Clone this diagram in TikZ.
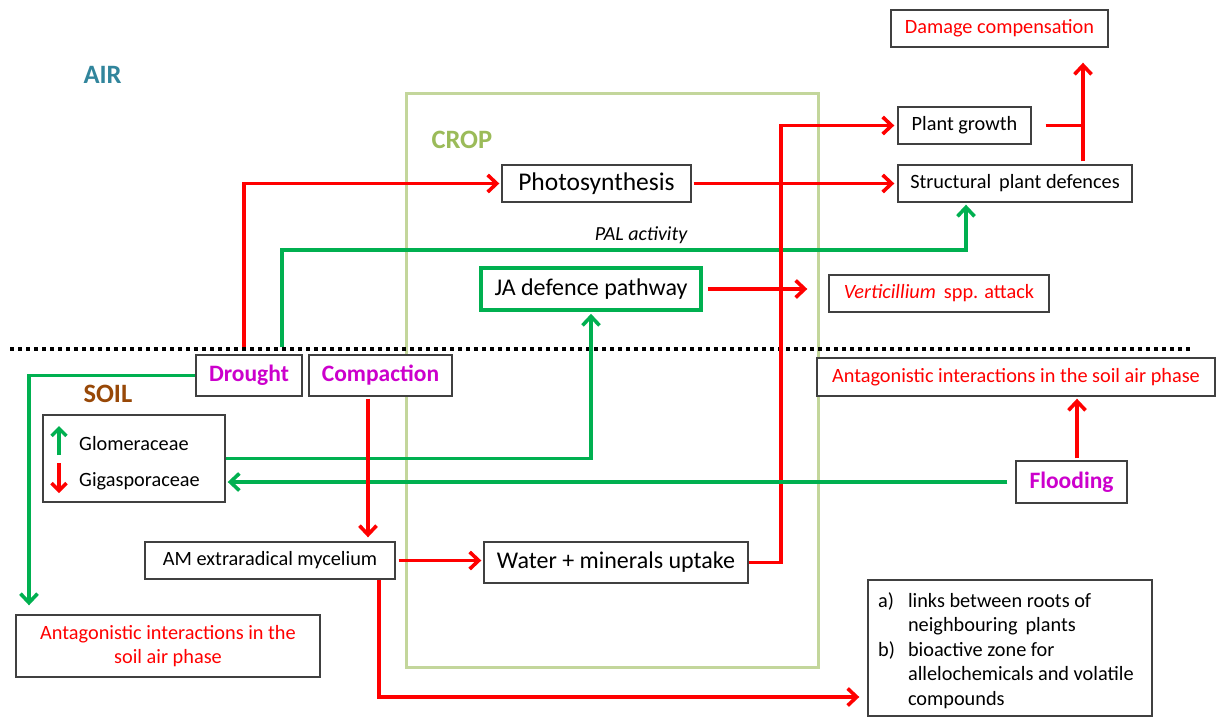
\documentclass[tikz,border=0pt]{standalone}
\usepackage{fontspec}
\setmainfont{Carlito}
\usetikzlibrary{arrows.meta,calc}
\definecolor{myred}{HTML}{FF0000}
\definecolor{mygreen}{HTML}{00B050}
\definecolor{mymag}{HTML}{CC00CC}
\definecolor{airblue}{HTML}{31859C}
\definecolor{soilbrown}{HTML}{984807}
\definecolor{cropline}{HTML}{C3D69B}
\definecolor{croptext}{HTML}{9BBB59}
\definecolor{boxline}{HTML}{404040}
\begin{document}
\begin{tikzpicture}[x=1pt,y=-1pt,
  box/.style={draw=boxline, line width=1.4pt, inner sep=0pt, fill=white, align=center},
  fs17/.style={font=\fontsize{20.3}{24}\selectfont},
  fs20/.style={font=\fontsize{24}{28}\selectfont},
  hazard/.style={font=\fontsize{23.5}{28}\selectfont\bfseries, text=mymag},
  title/.style={font=\fontsize{26.5}{30}\selectfont\bfseries, anchor=west},
  tip/.style={-{Straight Barb[length=9pt,width=17pt]}},
  rarr/.style={draw=myred, line width=3.6pt, tip},
  garr/.style={draw=mygreen, line width=3.6pt, tip},
  rline/.style={draw=myred, line width=3.6pt},
  legarr/.style={line width=3.4pt, -{Straight Barb[length=7.5pt,width=15pt]}},
]
\useasboundingbox (0,0) rectangle (1218,717);
\fill[white] (0,0) rectangle (1218,717);

% crop frame
\draw[cropline, line width=3pt] (406,93) rectangle (818,667);
\node[title, text=croptext] (crop) at (428,140) {CROP};
\node[title, text=airblue] (air) at (80,75) {AIR};
\node[title, text=soilbrown] (soil) at (80,394) {SOIL};

% soil surface
\draw[black, line width=4pt, dash pattern=on 4pt off 4pt] (10,348.5) -- (1190,348.5);

% nodes
\node[box, fs17, text=myred, minimum width=217pt, minimum height=37pt] (dmg) at (999.5,28.5) {Damage compensation};
\node[box, fs17, minimum width=133pt, minimum height=37pt] (pg) at (964.5,125.5) {Plant growth};
\node[box, fs17, minimum width=234pt, minimum height=37pt] (spd) at (1015,183.5) {Structural\, plant defences};
\node[box, font=\fontsize{25.5}{30}\selectfont, minimum width=189pt, minimum height=37pt] (pho) at (596.5,183.5) {Photosynthesis};
\node[box, fs20, draw=mygreen, line width=3.6pt, minimum width=220pt, minimum height=42pt] (ja) at (591,289) {JA defence pathway};
\node[box, fs17, text=myred, minimum width=220pt, minimum height=37pt] (vert) at (939,293.5) {\textit{Verticillium}\, spp. attack};
\node[box, hazard, minimum width=106pt, minimum height=41pt] (dr) at (249,375.5) {Drought};
\node[box, hazard, minimum width=143pt, minimum height=41pt] (comp) at (380.5,375.5) {Compaction};
\node[box, fs17, text=myred, minimum width=398pt, minimum height=38pt] (antR) at (1016,377) {Antagonistic interactions in the soil air phase};
\node[box, minimum width=182pt, minimum height=87pt] (fam) at (134,458.5) {};
\node[box, hazard, minimum width=111pt, minimum height=42pt] (fl) at (1071.5,482) {Flooding};
\node[box, fs17, minimum width=250pt, minimum height=37pt] (am) at (270,560.5) {AM extraradical mycelium};
\node[box, fs20, minimum width=264pt, minimum height=41pt] (wat) at (616,562.5) {Water + minerals uptake};
\node[box, text=myred, font=\fontsize{20.3}{23.5}\selectfont, minimum width=304pt, minimum height=62pt] (antL) at (168,646) {Antagonistic interactions in the\\soil air phase};
\node[box, minimum width=284pt, minimum height=136pt] (ab) at (1010,648) {};
\node[anchor=north west, inner sep=0pt, font=\fontsize{20.3}{24.5}\selectfont] (abtxt) at (878,590)
  {\begin{tabular}{@{}l@{\hspace{13pt}}l@{}}a) & links between roots of\\ & neighbouring\, plants\\ b) & bioactive zone for\\ & allelochemicals and volatile\\ & compounds\end{tabular}};

% family box content
\node[fs17, anchor=west, inner sep=0pt] (glo) at (79,444) {Glomeraceae};
\node[fs17, anchor=west, inner sep=0pt] (gig) at (79,481) {Gigasporaceae};
\draw[mygreen, legarr] (59,455) -- (59,426);
\draw[myred, legarr] (59,463) -- (59,493);

% helper coordinates
\coordinate (drR) at ([xshift=-5pt,yshift=7pt]dr.north);
\coordinate (drG) at ([xshift=33pt,yshift=7pt]dr.north);
\coordinate (palY) at (0,250);
\coordinate (spdS) at ([xshift=-49pt,yshift=-2pt]spd.south);
\coordinate (wx) at (781,0);
\coordinate (dmgS) at ([xshift=83.5pt,yshift=-15pt]dmg.south);
\coordinate (spdN) at ([xshift=68pt,yshift=3pt]spd.north);
\coordinate (antLN) at ([xshift=-139pt,yshift=9pt]antL.north);
\coordinate (flN) at ([xshift=5.5pt,yshift=2pt]fl.north);
\coordinate (compS) at ([xshift=-12.5pt,yshift=-2pt]comp.south);
\coordinate (amS) at ([xshift=109pt]am.south);
\coordinate (abW) at ([xshift=-8pt,yshift=-49pt]ab.west);

% connectors
\draw[rarr, shorten >=2pt] (drR) |- (pho.west);
\draw[garr] (drG) -- (drG |- palY) -| (spdS);
\node[font=\fontsize{20}{24}\selectfont\itshape] (pal) at (641,235) {PAL activity};
\draw[rarr, shorten <=2pt, shorten >=3pt] (pho.east) -- (pho.east -| spd.west);
\draw[rarr, shorten >=3pt] (wat.east) -- (wat.east -| wx) |- (pg.west);
\draw[rarr] (spdN) -- (dmgS);
\draw[rline, shorten <=14pt] (pg.east) -- (pg.east -| dmgS);
\draw[rarr, shorten <=5pt, shorten >=21pt] (ja.east) -- (ja.east -| vert.west);
\draw[garr] (dr.west) -| (antLN);
\draw[garr, shorten >=2pt] (fam.east) -| (ja.south);
\draw[garr, shorten <=8pt, shorten >=2pt] (fl.west) -- (fl.west -| fam.east);
\draw[rarr, shorten >=2pt] (flN) -- (flN |- antR.south);
\draw[rarr, shorten >=4pt] (compS) -- (compS |- am.north);
\draw[rarr, shorten <=3pt, shorten >=2pt] (am.east) -- (am.east -| wat.west);
\draw[rarr] (amS) |- (abW);
\end{tikzpicture}
\end{document}
